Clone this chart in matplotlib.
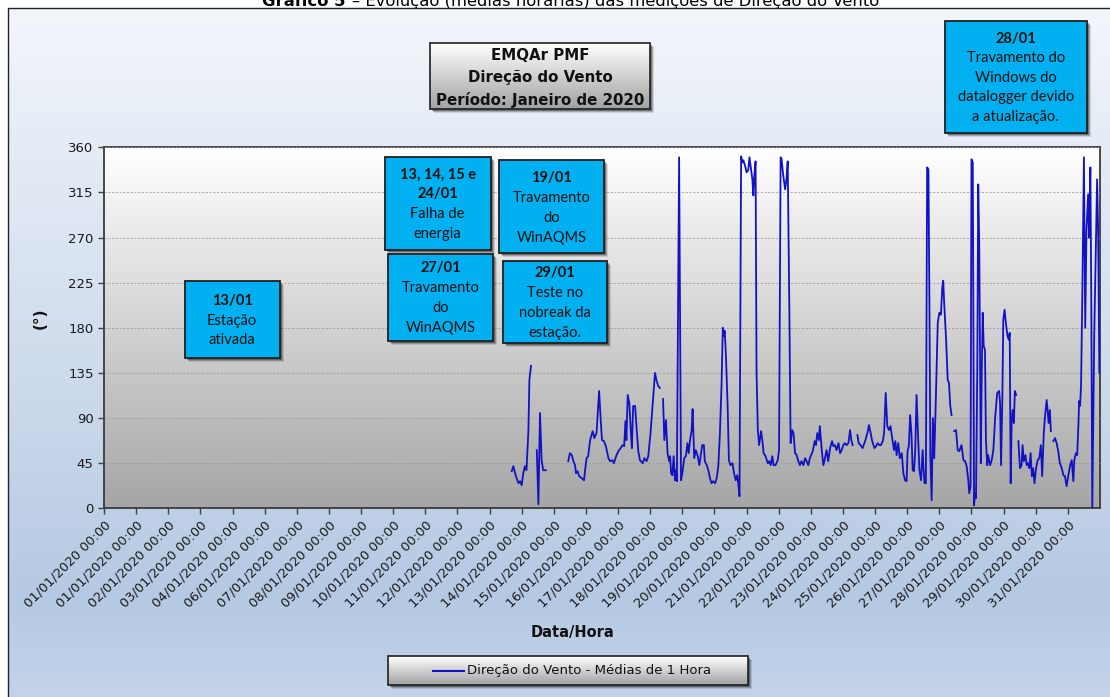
import numpy as np
import matplotlib
matplotlib.use("Agg")
import matplotlib.pyplot as plt
from matplotlib.colors import LinearSegmentedColormap
from matplotlib.patches import Rectangle

# ---- dados: médias horárias (dia = posição no eixo, None = falha) ----
dia = [
    12.69, 12.74, 12.82, 12.90, 12.95, 13.00, 13.05, 13.10, 13.15, 13.21, 13.24, 13.29, None,
    13.47, 13.52, 13.57, 13.62, 13.67, 13.75, None,
    14.45, 14.50, 14.56, 14.61, 14.66, 14.69, 14.74, 14.79, 14.87, 14.94, 14.97, 15.02, 15.07,
    15.13, 15.21, 15.26, 15.33, 15.41, 15.46, 15.50, 15.56, 15.62, 15.70, 15.75, 15.82, 15.87,
    15.94, 16.01, 16.08, 16.14, 16.19, 16.23, 16.26, 16.30, 16.35, 16.40, 16.43, 16.47, 16.53,
    16.58, 16.63, 16.68, 16.77, 16.82, 16.89, 16.94, 17.01, 17.08, 17.15, 17.20, 17.25, 17.30, None,
    17.40, 17.44, 17.49, 17.54, 17.59, 17.62, 17.65, 17.69, 17.73, 17.77, 17.80, 17.83, 17.90,
    17.96, 18.00, 18.06, 18.11, 18.16, 18.20, 18.24, 18.29, 18.32, 18.37, 18.42, 18.48, 18.53,
    18.57, 18.62, 18.67, 18.70, 18.76, 18.81, 18.86, 18.91, 18.96, 19.02, 19.07, 19.12, 19.17,
    19.22, 19.26, 19.29, 19.32, 19.36, 19.41, 19.45, 19.50, 19.56, 19.61, 19.66, 19.71, 19.74,
    19.78, 19.83, 19.87, 19.90, 19.95, 20.00, 20.05, 20.09, 20.14, 20.18, 20.21, 20.24, 20.28,
    20.31, 20.35, 20.39, 20.45, 20.49, 20.53, 20.59, 20.66, 20.70, 20.75, 20.80, 20.84, 20.90,
    20.97, 21.01, 21.06, 21.09, 21.14, 21.20, 21.24, 21.28, 21.33, 21.37, 21.42, 21.46, 21.51,
    21.56, 21.61, 21.66, 21.71, 21.77, 21.82, 21.87, 21.92, 21.97, 22.06, 22.12, 22.16, 22.20,
    22.25, 22.28, 22.34, 22.39, 22.44, 22.49, 22.54, 22.60, 22.66, 22.70, 22.75, 22.80, 22.86,
    22.91, 22.96, 23.01, 23.06, 23.11, 23.17, 23.22, 23.26, 23.30, None,
    23.45, 23.49, 23.55, 23.61, 23.69, 23.76, 23.81, 23.86, 23.91, 23.98, 24.03, 24.08, 24.13,
    24.18, 24.24, 24.28, 24.33, 24.38, 24.43, 24.48, 24.54, 24.59, 24.63, 24.67, 24.72, 24.77,
    24.83, 24.88, 24.93, 24.98, 25.01, 25.05, 25.09, 25.13, 25.17, 25.21, 25.25, 25.29, 25.33,
    25.38, 25.43, 25.48, 25.51, 25.54, 25.58, 25.62, 25.66, 25.69, 25.72, 25.76, 25.80, 25.84,
    25.89, 25.95, 26.00, 26.05, 26.09, 26.12, 26.15, 26.21, 26.26, 26.30, 26.34, 26.38, None,
    26.46, 26.52, 26.57, 26.62, 26.69, 26.75, 26.80, 26.85, 26.90, 26.93, 26.97, 27.00, 27.04,
    27.08, 27.11, 27.14, 27.18, 27.21, 27.24, 27.29, 27.32, 27.35, 27.38, 27.42, 27.45, 27.49,
    27.52, 27.58, 27.63, 27.68, 27.74, 27.80, 27.86, 27.89, 27.92, 27.96, 27.99, 28.03, 28.06,
    28.12, 28.16, 28.19, 28.22, 28.25, 28.28, 28.32, 28.35, 28.39, None,
    28.46, 28.51, 28.56, 28.59, 28.63, 28.68, 28.72, 28.76, 28.80, 28.84, 28.88, 28.92, 28.96,
    29.01, 29.06, 29.11, 29.16, 29.20, 29.25, 29.29, 29.34, 29.37, 29.40, 29.44, 29.47, None,
    29.55, 29.60, 29.65, 29.70, 29.75, 29.81, 29.86, 29.91, 29.96, 30.01, 30.07, 30.12, 30.17,
    30.20, 30.25, 30.29, 30.33, 30.35, 30.38, 30.41, 30.45, 30.50, 30.54, 30.58, 30.63, 30.66,
    30.70, 30.73, 30.76, 30.79, 30.82, 30.86, 30.91, 30.94, 30.98,
]
direcao = [
    37, 42, 32, 25, 27, 23, 35, 42, 38, 78, 128, 142, None,
    58, 4, 95, 48, 38, 38, None,
    47, 55, 53, 47, 43, 35, 37, 32, 30, 28, 37, 50, 52,
    68, 77, 70, 75, 117, 88, 68, 67, 62, 50, 47, 48, 45,
    52, 57, 60, 63, 62, 87, 68, 113, 105, 75, 60, 102, 102,
    78, 57, 48, 45, 50, 47, 52, 75, 105, 135, 127, 122, 120, None,
    109, 68, 88, 55, 47, 52, 35, 33, 52, 28, 38, 27, 350,
    28, 35, 50, 52, 65, 55, 68, 78, 99, 50, 58, 52, 43,
    52, 63, 63, 47, 43, 38, 30, 25, 27, 25, 30, 42, 75,
    122, 180, 172, 177, 150, 102, 48, 43, 45, 35, 28, 33, 25,
    12, 351, 345, 347, 342, 335, 337, 350, 338, 328, 312, 332, 346,
    135, 78, 63, 77, 68, 55, 52, 45, 47, 43, 52, 43, 43,
    48, 58, 350, 348, 332, 318, 328, 346, 202, 65, 78, 75, 55,
    53, 47, 43, 47, 43, 50, 47, 43, 50, 57, 67, 63, 75,
    68, 82, 58, 43, 50, 58, 47, 60, 67, 62, 63, 58, 65,
    55, 58, 63, 65, 63, 65, 78, 68, 63, None,
    73, 65, 63, 60, 67, 75, 83, 75, 67, 60, 62, 65, 63,
    63, 67, 75, 115, 82, 78, 82, 68, 58, 67, 53, 65, 50,
    55, 35, 28, 27, 57, 62, 93, 75, 38, 37, 58, 113, 78,
    38, 28, 58, 38, 25, 25, 340, 338, 208, 52, 8, 90, 50,
    108, 185, 195, 193, 220, 227, 205, 168, 128, 125, 102, 93, None,
    77, 78, 58, 57, 63, 48, 47, 42, 28, 15, 22, 348, 345,
    3, 15, 10, 135, 323, 268, 45, 135, 195, 162, 158, 68, 43,
    53, 43, 48, 58, 92, 115, 117, 105, 43, 108, 188, 198, 188,
    172, 168, 175, 25, 85, 98, 85, 117, 113, None,
    67, 40, 43, 63, 47, 53, 43, 45, 40, 55, 32, 40, 25,
    40, 48, 50, 63, 32, 75, 92, 108, 98, 85, 98, 77, None,
    67, 70, 65, 57, 45, 40, 33, 32, 22, 32, 43, 48, 27,
    48, 55, 53, 85, 107, 102, 122, 212, 350, 180, 278, 313, 270,
    340, 202, 0, 82, 172, 242, 328, 282, 135,
]
dias_rotulo = [1, 1, 2, 3, 4, 6, 7, 8, 9, 10, 11, 12, 13, 14, 15, 16, 17, 18, 19, 20,
               21, 22, 23, 24, 25, 26, 27, 28, 29, 30, 31]
rotulos = [f"{d:02d}/01/2020 00:00" for d in dias_rotulo]
yticks = [0, 45, 90, 135, 180, 225, 270, 315, 360]

x = np.array([np.nan if v is None else v for v in dia], dtype=float)
y = np.array([np.nan if v is None else v for v in direcao], dtype=float)

W, H = 1110, 697
LINE = "#1212c4"
CYAN = "#00b0f0"
EDGE = "#1f1f1f"
BOXFONT = ["Lato", "DejaVu Sans"]

fig = plt.figure(figsize=(W / 100, H / 100), dpi=100)
fig.patch.set_facecolor("white")

# fundo azul em degradê (moldura do gráfico)
bg = fig.add_axes([0, 0, 1, 1], zorder=-2)
bg.axis("off")
bg_cmap = LinearSegmentedColormap.from_list(
    "bg", [(0, "#f3f6fb"), (0.45, "#d3dfee"), (0.85, "#b5c9e3"), (1, "#c3d4ea")])
bg.imshow(np.linspace(0, 1, 256).reshape(-1, 1), cmap=bg_cmap, aspect="auto",
          extent=[7.5, W + 5, H + 5, 8.3], zorder=0)
bg.set_xlim(0, W)
bg.set_ylim(H, 0)

# área de plotagem
ax = fig.add_axes([104 / W, 1 - 508.3 / H, 996 / W, 361 / H], zorder=1)
grey_cmap = LinearSegmentedColormap.from_list("pa", ["#a6a6a6", "#ffffff"])
ax.imshow(np.linspace(0, 1, 256).reshape(-1, 1), cmap=grey_cmap, origin="lower",
          aspect="auto", extent=[0, 31, 0, 360], zorder=0)
ax.set_xlim(0, 31)
ax.set_ylim(0, 360)
ax.set_yticks(yticks)
ax.yaxis.grid(True, ls=(0, (2.5, 2)), color="#9c9c9c", lw=0.6, zorder=1)
ax.set_axisbelow(False)
ax.plot(x, y, color=LINE, lw=1.3, zorder=3, label="Direção do Vento - Médias de 1 Hora")
ax.set_xticks(range(len(rotulos)))
ax.set_xticklabels(rotulos, rotation=45, ha="right", va="top", rotation_mode="anchor",
                   fontsize=9.4, color="#1a1a1a")
ax.tick_params(axis="y", labelsize=9.5, labelcolor="#1a1a1a")
ax.tick_params(direction="out", length=4, color="#404040", width=1)
for s in ax.spines.values():
    s.set_color("#3a3a3a")
    s.set_linewidth(1.3)

# camada de anotações em pixels
ov = fig.add_axes([0, 0, 1, 1], zorder=5)
ov.axis("off")
ov.patch.set_alpha(0)

ov.add_patch(Rectangle((7.5, 8.3), W + 20, H + 20, fill=False, ec="#222222", lw=1.0))

# título do documento (cortado no topo, como no original)
fig.text(345 / W, 1 - 6 / H, "Gráfico 5", fontsize=11.8, fontweight="bold",
         ha="right", va="baseline")
fig.text(352 / W, 1 - 6 / H, "– Evolução (médias horárias) das medições de Direção do Vento",
         fontsize=11.8, ha="left", va="baseline")


def shadow(x0, y0, x1, y1):
    for off, a in [(4, 0.12), (3, 0.2), (2, 0.3)]:
        ov.add_patch(Rectangle((x0 + off, y0 + off), x1 - x0, y1 - y0,
                               fc="black", ec="none", alpha=a, zorder=1))


def caixa(x0, y0, x1, y1, linhas, gap=20):
    shadow(x0, y0, x1, y1)
    ov.add_patch(Rectangle((x0, y0), x1 - x0, y1 - y0, fc=CYAN, ec=EDGE, lw=1.3, zorder=2))
    cx, cy = (x0 + x1) / 2, (y0 + y1) / 2 + 1
    n = len(linhas)
    for i, (t, negrito) in enumerate(linhas):
        ov.text(cx, cy + (i - (n - 1) / 2) * gap, t, ha="center", va="center",
                fontsize=10.5, family=BOXFONT, color="#111111",
                fontweight="bold" if negrito else "normal", zorder=3)


def caixa_cinza(x0, y0, x1, y1):
    shadow(x0, y0, x1, y1)
    ov.imshow(np.linspace(0, 1, 64).reshape(-1, 1), cmap=LinearSegmentedColormap.from_list(
        "bx", ["#ffffff", "#a2a2a2"]), aspect="auto", extent=[x0, x1, y1, y0], zorder=2)
    ov.add_patch(Rectangle((x0, y0), x1 - x0, y1 - y0, fill=False, ec=EDGE, lw=1.2, zorder=3))


caixa(184.6, 280.7, 279.6, 358.3, [("13/01", True), ("Estação", False), ("ativada", False)])
caixa(384.6, 156.7, 490.7, 250, [("13, 14, 15 e", True), ("24/01", True),
                                 ("Falha de", False), ("energia", False)])
caixa(387.9, 254, 492.9, 340.7, [("27/01", True), ("Travamento", False), ("do", False),
                                 ("WinAQMS", False)])
caixa(498.9, 160, 604.3, 253.3, [("19/01", True), ("Travamento", False), ("do", False),
                                 ("WinAQMS", False)])
caixa(502.5, 260.7, 607.3, 343.3, [("29/01", True), ("Teste no", False),
                                   ("nobreak da", False), ("estação.", False)])
caixa(945, 20.7, 1086.6, 133.3, [("28/01", True), ("Travamento do", False),
                                 ("Windows do", False), ("datalogger devido", False),
                                 ("a atualização.", False)], gap=19.5)

# caixa de título
caixa_cinza(430.4, 43.3, 650, 109.3)
for t, yy in [("EMQAr PMF", 55), ("Direção do Vento", 77.5), ("Período: Janeiro de 2020", 100)]:
    ov.text(540, yy, t, ha="center", va="center", fontsize=10.8, fontweight="bold",
            color="#111111", zorder=4)

# legenda
caixa_cinza(388, 656, 748, 685)
ov.plot([433, 464], [670.5, 670.5], color=LINE, lw=1.5, zorder=4)
ov.text(467, 670.5, "Direção do Vento - Médias de 1 Hora", ha="left", va="center",
        fontsize=9.5, color="#111111", zorder=4)

# títulos dos eixos
ov.text(572, 632, "Data/Hora", ha="center", va="center", fontsize=10.5,
        fontweight="bold", color="#111111")
ov.text(40, 318, "(°)", ha="center", va="center", rotation=90, fontsize=11,
        fontweight="bold", color="#111111")

ov.set_xlim(0, W)
ov.set_ylim(H, 0)

fig.savefig("out.png", dpi=100)
